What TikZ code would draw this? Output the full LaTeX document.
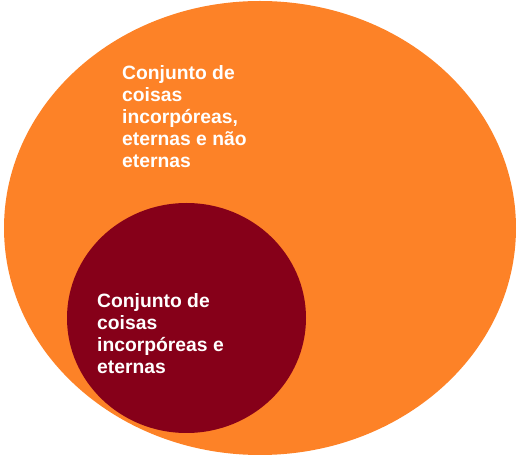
\documentclass[tikz,border=0pt]{standalone}
\usepackage{fontspec}
\setmainfont{Liberation Sans}
\definecolor{incorp}{RGB}{253,130,39}
\definecolor{eterna}{RGB}{134,0,25}

\begin{document}
\begin{tikzpicture}[x=1pt,y=-1pt,
  rotulo/.style={font=\fontsize{19.3}{22}\selectfont\bfseries,text=white,align=left,inner sep=0pt,anchor=base west}]
\useasboundingbox (0,0) rectangle (523,470);
\fill[incorp] (260,228) ellipse [x radius=256,y radius=227];
\fill[eterna] (186.5,318) ellipse [x radius=119.5,y radius=115];
% base = baseline of the last line
\node[rotulo] (todas) at (122,168) {Conjunto de\\coisas\\incorpóreas,\\eternas e não\\eternas};
\node[rotulo] (eternas) at (97,374) {Conjunto de\\coisas\\incorpóreas e\\eternas};
\end{tikzpicture}
\end{document}
